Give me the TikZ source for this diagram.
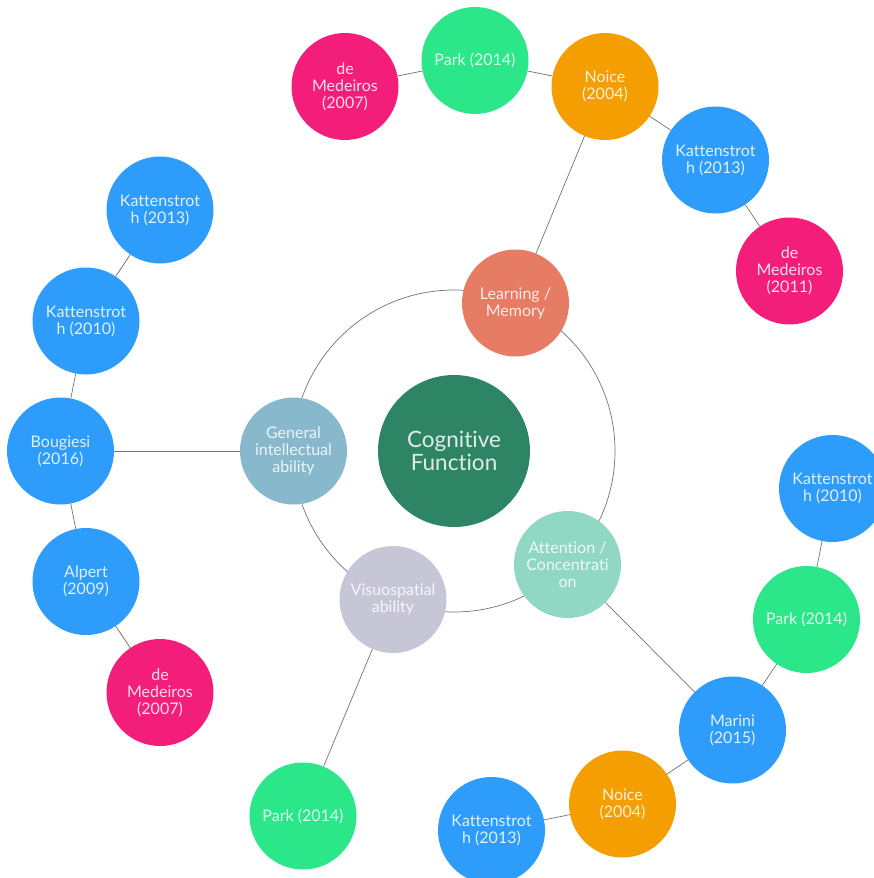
\documentclass[tikz,border=0pt]{standalone}
\usepackage{fontspec}
\setmainfont{Lato}[Ligatures={NoCommon}]
\begin{document}
\begin{tikzpicture}[x=1pt,y=-1pt,
  bub/.style={circle,minimum size=107pt,inner sep=0pt,align=center,text=white,text opacity=0.85,font=\fontsize{16}{17}\selectfont},
  ref/.style={bub},
  cat/.style={bub},
  link/.style={draw=gray!90!black,line width=0.7pt},
  cblue/.style={fill=cBlue},
  cgreen/.style={fill=cGreen},
  cpink/.style={fill=cPink},
  corange/.style={fill=cOrange}]
\definecolor{cBlue}{HTML}{2E9CFB}
\definecolor{cGreen}{HTML}{2CE68A}
\definecolor{cPink}{HTML}{F31E7A}
\definecolor{cOrange}{HTML}{F59E02}
\definecolor{cLearn}{HTML}{E57C63}
\definecolor{cGen}{HTML}{88B8CC}
\definecolor{cVis}{HTML}{C7C6D6}
\definecolor{cAtt}{HTML}{90D8C4}
\definecolor{cCog}{HTML}{2D8566}
\useasboundingbox (0,0) rectangle (873,878);
\coordinate (ctr) at (454,451);
\draw[link] (ctr) circle[radius=161];
% center
\node[bub,fill=cCog,minimum size=152pt,font=\fontsize{22.5}{23.5}\selectfont] (cog) at (454,451) {Cognitive\\Function};
% categories
\node[cat,fill=cLearn] (learn) at (515.5,303) {Learning /\\Memory};
\node[cat,fill=cGen] (gen) at (293.5,451) {General\\intellectual\\ability};
\node[cat,fill=cVis] (vis) at (393,599.5) {Visuospatial\\ability};
\node[cat,fill=cAtt] (att) at (567.5,564.5) {Attention /\\Concentrati\\on};
% top chain
\node[ref,cpink] (t1) at (345,86.5) {de\\Medeiros\\(2007)};
\node[ref,cgreen] (t2) at (475,60.5) {Park (2014)};
\node[ref,corange] (t3) at (605,86.5) {Noice\\(2004)};
\node[ref,cblue] (t4) at (715.5,160) {Kattenstrot\\h (2013)};
\node[ref,cpink] (t5) at (789.5,271) {de\\Medeiros\\(2011)};
% left chain
\node[ref,cblue] (l1) at (160,210) {Kattenstrot\\h (2013)};
\node[ref,cblue] (l2) at (86,321) {Kattenstrot\\h (2010)};
\node[ref,cblue] (l3) at (60.5,451) {Bougiesi\\(2016)};
\node[ref,cblue] (l4) at (86,581.5) {Alpert\\(2009)};
\node[ref,cpink] (l5) at (160,692.5) {de\\Medeiros\\(2007)};
% bottom
\node[ref,cgreen] (b1) at (303,816) {Park (2014)};
% right chain
\node[ref,cblue] (r1) at (832.5,488.5) {Kattenstrot\\h (2010)};
\node[ref,cgreen] (r2) at (806.5,619.5) {Park (2014)};
\node[ref,cblue] (r3) at (732.5,730) {Marini\\(2015)};
\node[ref,corange] (r4) at (622.5,804) {Noice\\(2004)};
\node[ref,cblue] (r5) at (491.5,830.5) {Kattenstrot\\h (2013)};
% connectors
\draw[link] (learn) -- (t3);
\draw[link] (t1) -- (t2);
\draw[link] (t2) -- (t3);
\draw[link] (t3) -- (t4);
\draw[link] (t4) -- (t5);
\draw[link] (gen) -- (l3);
\draw[link] (l1) -- (l2);
\draw[link] (l2) -- (l3);
\draw[link] (l3) -- (l4);
\draw[link] (l4) -- (l5);
\draw[link] (vis) -- (b1);
\draw[link] (att) -- (r3);
\draw[link] (r1) -- (r2);
\draw[link] (r2) -- (r3);
\draw[link] (r3) -- (r4);
\draw[link] (r4) -- (r5);
\end{tikzpicture}
\end{document}
